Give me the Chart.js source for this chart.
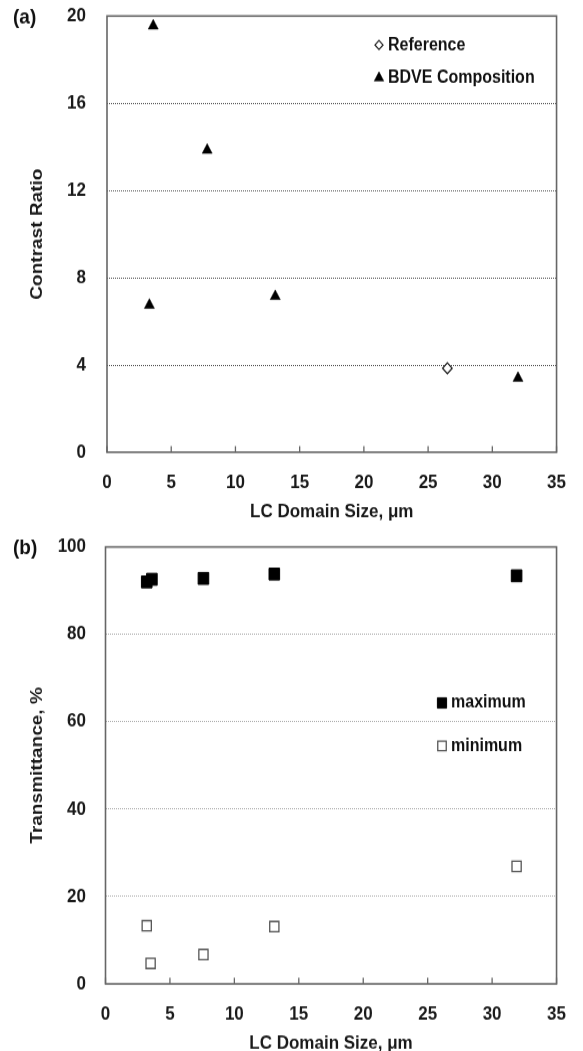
<!DOCTYPE html>
<html>
<head>
<meta charset="utf-8">
<script src="https://cdn.jsdelivr.net/npm/chart.js@4.4.1/dist/chart.umd.min.js"></script>
<style>
  html, body { margin: 0; padding: 0; background: #fff; }
  canvas { position: absolute; left: 0; display: block; }
</style>
</head>
<body>
<!-- the figure is slightly stretched vertically, so each canvas is drawn shorter and scaled up by CSS -->
<canvas id="chartA" width="583" height="469" style="top:0px;width:583px;height:525px;"></canvas>
<canvas id="chartB" width="583" height="470" style="top:525px;width:583px;height:526px;"></canvas>
<script>
// (a) contrast ratio vs LC domain size
const refSize = [26.5];
const refContrast = [3.85];
const bdveSize = [3.3, 3.6, 7.8, 13.1, 32.0];
const bdveContrast = [6.75, 19.55, 13.85, 7.15, 3.4];
const contrastTicks = [0, 4, 8, 12, 16, 20];

// (b) transmittance vs LC domain size
const maxSize = [3.2, 3.6, 7.6, 13.1, 31.9];
const maxTrans = [92.0, 92.6, 92.8, 93.8, 93.4];
const minSize = [3.2, 3.5, 7.6, 13.1, 31.9];
const minTrans = [13.3, 4.7, 6.7, 13.1, 26.9];
const transTicks = [0, 20, 40, 60, 80, 100];

const sizeTicks = [0, 5, 10, 15, 20, 25, 30, 35];

const FONT = "'Liberation Sans', Arial, sans-serif";
Chart.defaults.font.family = FONT;
Chart.defaults.font.weight = "bold";
Chart.defaults.font.size = 17;
Chart.defaults.color = "#1a1a1a";

const toPoints = (xs, ys) => xs.map((x, i) => ({ x: x, y: ys[i] }));

// frame, inward x ticks, panel letter and the legend
const framePlugin = {
  id: "frame",
  beforeDatasetsDraw(chart) {
    const { ctx, chartArea: a, scales: { x } } = chart;
    ctx.save();
    ctx.strokeStyle = "#666";
    ctx.lineWidth = 1.6;
    ctx.strokeRect(a.left, a.top, a.right - a.left, a.bottom - a.top);
    ctx.lineWidth = 1.3;
    x.ticks.forEach((t) => {
      const px = x.getPixelForValue(t.value);
      ctx.beginPath();
      ctx.moveTo(px, a.bottom);
      ctx.lineTo(px, a.bottom - 5.5);
      ctx.stroke();
    });
    ctx.restore();
  },
  afterDraw(chart, args, opts) {
    const { ctx, chartArea: a } = chart;
    ctx.save();
    ctx.fillStyle = "#111";
    ctx.font = "bold 19px " + FONT;
    ctx.textAlign = "left";
    ctx.textBaseline = "middle";
    ctx.fillText(opts.letter, 13, a.top + 1);

    ctx.font = "bold 16px " + FONT;
    chart.data.datasets.forEach((ds, i) => {
      const y = opts.legendY[i];
      ctx.fillStyle = ds.backgroundColor;
      ctx.strokeStyle = ds.borderColor;
      ctx.lineWidth = ds.borderWidth;
      Chart.helpers.drawPoint(ctx, {
        pointStyle: ds.pointStyle,
        radius: opts.legendRadius[i],
        borderWidth: ds.borderWidth,
        rotation: 0,
      }, opts.legendX, y);
      ctx.fillStyle = "#111";
      ctx.fillText(ds.label, opts.legendX + 9, y);
    });
    ctx.restore();
  },
};

function gridColor(dark) {
  return (c) => (c.tick.value === c.scale.min || c.tick.value === c.scale.max ? "rgba(0,0,0,0)" : dark);
}

function makeChart(id, cfg) {
  return new Chart(document.getElementById(id), {
    type: "scatter",
    data: { datasets: cfg.datasets },
    options: {
      responsive: false,
      animation: false,
      devicePixelRatio: 1,
      layout: { padding: { top: cfg.top, right: 20, left: 0, bottom: 0 } },
      plugins: {
        legend: { display: false },
        tooltip: { enabled: false },
        frame: cfg.frame,
      },
      scales: {
        x: {
          type: "linear",
          min: 0,
          max: 35,
          afterBuildTicks: (s) => { s.ticks = sizeTicks.map((v) => ({ value: v })); },
          afterFit: (s) => { s.height = cfg.xHeight; },
          grid: { display: false, drawTicks: false },
          border: { display: false },
          ticks: { padding: cfg.xTickPad, maxRotation: 0 },
          title: {
            display: true,
            text: "LC Domain Size, μm",
            font: { size: 17, weight: "bold", lineHeight: 1 },
            padding: { top: 0, bottom: cfg.xTitlePad },
          },
        },
        y: {
          type: "linear",
          min: cfg.yTicks[0],
          max: cfg.yTicks[cfg.yTicks.length - 1],
          afterBuildTicks: (s) => { s.ticks = cfg.yTicks.map((v) => ({ value: v })); },
          afterFit: (s) => { s.width = cfg.yWidth; s.paddingTop = 0; s.paddingBottom = 0; },
          grid: { color: gridColor(cfg.gridColor), lineWidth: 1, drawTicks: false },
          border: { display: false, dash: [1, 1] },
          ticks: { padding: cfg.yTickPad },
          title: {
            display: true,
            text: cfg.yTitle,
            font: { size: 17, weight: "bold" },
            padding: { top: 27, bottom: 0 },
          },
        },
      },
    },
    plugins: [framePlugin],
  });
}

makeChart("chartA", {
  top: 14.3,
  xHeight: 65,
  xTickPad: 17,
  xTitlePad: 3,
  yWidth: 107,
  yTickPad: 21,
  yTicks: contrastTicks,
  yTitle: "Contrast Ratio",
  gridColor: "#555",
  frame: { letter: "(a)", legendX: 379, legendY: [40.2, 69.6], legendRadius: [4, 5.5] },
  datasets: [
    {
      label: "Reference",
      data: toPoints(refSize, refContrast),
      pointStyle: "rectRot",
      pointRadius: 4.8,
      backgroundColor: "#fff",
      borderColor: "#222",
      borderWidth: 1.2,
      clip: false,
    },
    {
      label: "BDVE Composition",
      data: toPoints(bdveSize, bdveContrast),
      pointStyle: "triangle",
      pointRadius: 5.8,
      backgroundColor: "#000",
      borderColor: "#000",
      borderWidth: 0.5,
      clip: false,
    },
  ],
});

makeChart("chartB", {
  top: 19.6,
  xHeight: 60,
  xTickPad: 17,
  xTitlePad: -2,
  yWidth: 105.5,
  yTickPad: 19.5,
  yTicks: transTicks,
  yTitle: "Transmittance, %",
  gridColor: "#aaa",
  frame: { letter: "(b)", legendX: 442, legendY: [159, 197.3], legendRadius: [6.5, 6] },
  datasets: [
    {
      label: "maximum",
      data: toPoints(maxSize, maxTrans),
      pointStyle: "rect",
      pointRadius: 7.5,
      backgroundColor: "#000",
      borderColor: "#000",
      borderWidth: 1,
      clip: false,
    },
    {
      label: "minimum",
      data: toPoints(minSize, minTrans),
      pointStyle: "rect",
      pointRadius: 6.5,
      backgroundColor: "#fff",
      borderColor: "#555",
      borderWidth: 1.3,
      clip: false,
    },
  ],
});
</script>
</body>
</html>
